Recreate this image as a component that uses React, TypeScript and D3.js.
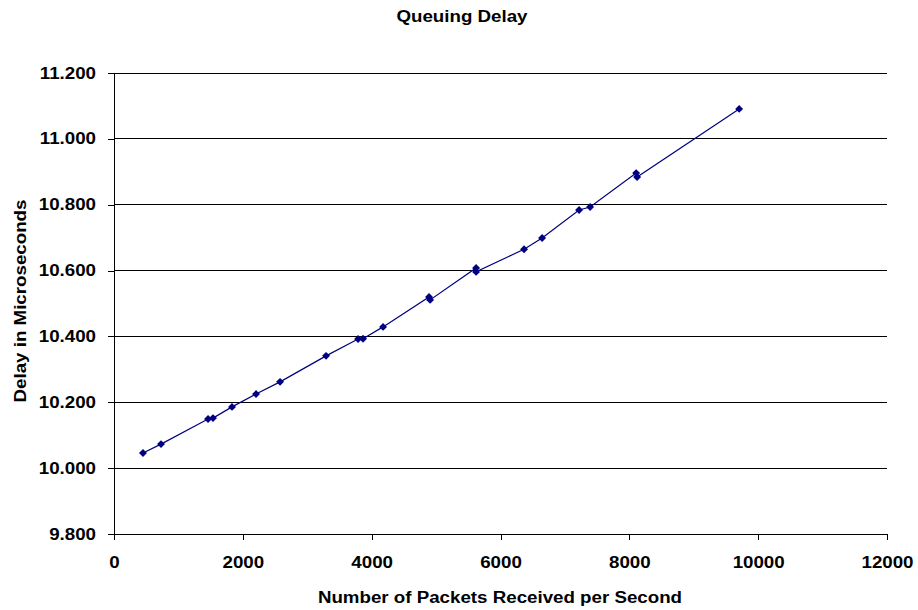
import React, { useEffect, useRef } from "react";
import * as d3 from "d3";

// packets received per second
const packets = [
  450, 730, 1460, 1537, 1832, 2205, 2578, 3292, 3789, 3866, 4177, 4891, 4907,
  5621, 5621, 6366, 6646, 7220, 7391, 8106, 8121, 9705,
];
// queuing delay in microseconds
const delay = [
  10.046, 10.073, 10.149, 10.152, 10.186, 10.225, 10.262, 10.341, 10.392,
  10.393, 10.429, 10.52, 10.511, 10.608, 10.596, 10.665, 10.699, 10.784,
  10.793, 10.896, 10.884, 11.091,
];
const xTicks = [0, 2000, 4000, 6000, 8000, 10000, 12000];
const yTicks = [9.8, 10.0, 10.2, 10.4, 10.6, 10.8, 11.0, 11.2];

const App = () => {
  const ref = useRef<SVGSVGElement>(null);

  useEffect(() => {
    const width = 918;
    const height = 610;
    const margin = { top: 73, left: 114, bottom: 76, right: 31 };
    const font = "'Liberation Sans', Arial, sans-serif";
    const stretchX = 1.17; // the original text looks horizontally widened

    const svg = d3.select(ref.current);
    svg.selectAll("*").remove();
    svg.attr("width", width).attr("height", height);

    // widen each text element a bit
    // @ts-ignore
    const stretch = (sel) =>
      // @ts-ignore
      sel.each(function () {
        // @ts-ignore
        const w = this.getComputedTextLength();
        d3.select(this)
          .attr("textLength", w * stretchX)
          .attr("lengthAdjust", "spacingAndGlyphs");
      });

    const x = d3
      .scaleLinear()
      .domain([0, 12000])
      .range([margin.left, width - margin.right]);
    const y = d3
      .scaleLinear()
      .domain([9.8, 11.2])
      .range([height - margin.bottom, margin.top]);

    // gridlines
    svg
      .append("g")
      .selectAll("line")
      .data(yTicks.slice(1))
      .enter()
      .append("line")
      .attr("x1", margin.left)
      .attr("x2", width - margin.right)
      .attr("y1", (d) => y(d))
      .attr("y2", (d) => y(d))
      .attr("stroke", "#000")
      .attr("stroke-width", 1)
      .attr("shape-rendering", "crispEdges");

    // @ts-ignore
    const xAxis = (g) =>
      g
        .attr("transform", `translate(0, ${height - margin.bottom})`)
        .call(
          d3
            .axisBottom(x)
            .tickValues(xTicks)
            .tickSizeOuter(0)
            .tickSize(6)
            .tickPadding(17)
            .tickFormat(d3.format("d"))
        );
    // @ts-ignore
    const yAxis = (g) =>
      g
        .attr("transform", `translate(${margin.left}, 0)`)
        .call(
          d3
            .axisLeft(y)
            .tickValues(yTicks)
            .tickSizeOuter(0)
            .tickSize(6)
            .tickPadding(12)
            .tickFormat(d3.format(".3f"))
        );

    [svg.append("g").call(xAxis), svg.append("g").call(yAxis)].forEach((g) => {
      g.selectAll("text")
        .attr("font-family", font)
        .attr("font-weight", "bold")
        .attr("font-size", "16px")
        .attr("fill", "#000")
        .call(stretch);
      g.selectAll("line").attr("stroke", "#000").attr("shape-rendering", "crispEdges");
      g.select(".domain").attr("stroke", "#000").attr("shape-rendering", "crispEdges");
    });

    const data = packets.map((p, i) => ({ x: p, y: delay[i] }));

    const line = d3
      .line<{ x: number; y: number }>()
      .x((d) => x(d.x))
      .y((d) => y(d.y));

    svg
      .append("path")
      .datum(data)
      .attr("fill", "none")
      .attr("stroke", "#000080")
      .attr("stroke-width", 1.2)
      .attr("d", line);

    svg
      .append("g")
      .selectAll("path")
      .data(data)
      .enter()
      .append("path")
      .attr("d", d3.symbol().type(d3.symbolDiamond2).size(40)())
      .attr("transform", (d) => `translate(${x(d.x)}, ${y(d.y)})`)
      .attr("fill", "#000080");

    // titles
    svg
      .append("text")
      .text("Queuing Delay")
      .attr("x", 462)
      .attr("y", 22)
      .attr("text-anchor", "middle")
      .attr("font-family", font)
      .attr("font-weight", "bold")
      .attr("font-size", "16px")
      .call(stretch);

    svg
      .append("text")
      .text("Number of Packets Received per Second")
      .attr("x", 500)
      .attr("y", 603)
      .attr("text-anchor", "middle")
      .attr("font-family", font)
      .attr("font-weight", "bold")
      .attr("font-size", "16px")
      .call(stretch);

    svg
      .append("text")
      .text("Delay in Microseconds")
      .attr("transform", "translate(26, 301) rotate(-90)")
      .attr("text-anchor", "middle")
      .attr("font-family", font)
      .attr("font-weight", "bold")
      .attr("font-size", "16px")
      .call(stretch);
  }, []);

  return (
    <svg
      ref={ref}
      style={{ position: "absolute", left: 0, top: 0, background: "#fff" }}
    />
  );
};
export default App;
